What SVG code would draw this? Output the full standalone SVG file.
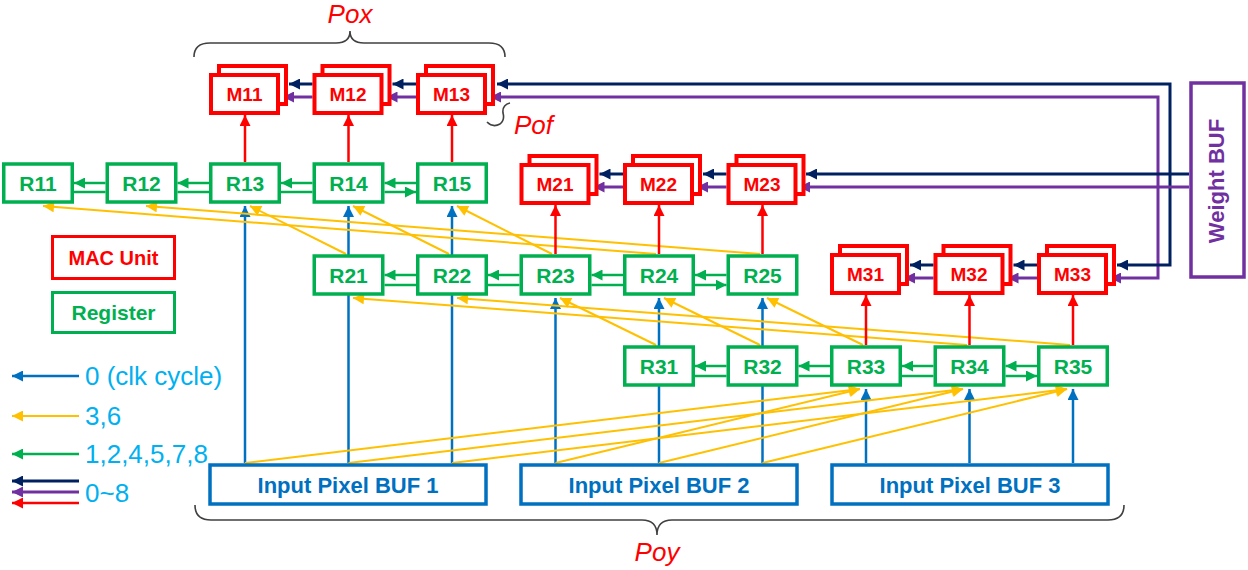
<svg xmlns="http://www.w3.org/2000/svg" width="1248" height="570" viewBox="0 0 1248 570">
<defs>
<style>
.reg{fill:#fff;stroke:#00B050;stroke-width:3.5}
.mac{fill:#fff;stroke:#FF0000;stroke-width:4}
.buf{fill:#fff;stroke:#0070C0;stroke-width:3.5}
.rt{font-family:"Liberation Sans",Arial,sans-serif;font-weight:bold;font-size:21px;fill:#00B050;text-anchor:middle}
.mt{font-family:"Liberation Sans",Arial,sans-serif;font-weight:bold;font-size:19px;fill:#FF0000;text-anchor:middle}
.bt{font-family:"Liberation Sans",Arial,sans-serif;font-weight:bold;font-size:22px;fill:#0070C0;text-anchor:middle}
.lt{font-family:"Liberation Sans",Arial,sans-serif;font-size:26px;fill:#00B0F0}
.it{font-family:"Liberation Sans",Arial,sans-serif;font-style:italic;font-size:26px;fill:#FF0000}
.g{stroke:#00B050;stroke-width:2.5;fill:none}
.b{stroke:#0070C0;stroke-width:2.5;fill:none}
.y{stroke:#FFC000;stroke-width:2;fill:none}
.r{stroke:#FF0000;stroke-width:2.5;fill:none}
.n{stroke:#002060;stroke-width:3;fill:none}
.p{stroke:#7030A0;stroke-width:3;fill:none}
.br{stroke:#404040;stroke-width:1.6;fill:none}
</style>
<marker id="ag" markerUnits="userSpaceOnUse" markerWidth="11" markerHeight="11" viewBox="0 0 10 10" refX="10" refY="5" orient="auto-start-reverse"><path d="M0,0L10,5L0,10z" fill="#00B050"/></marker>
<marker id="ab" markerUnits="userSpaceOnUse" markerWidth="12" markerHeight="11" viewBox="0 0 10 10" refX="10" refY="5" orient="auto-start-reverse"><path d="M0,0L10,5L0,10z" fill="#0070C0"/></marker>
<marker id="ay" markerUnits="userSpaceOnUse" markerWidth="12" markerHeight="11" viewBox="0 0 10 10" refX="10" refY="5" orient="auto-start-reverse"><path d="M0,0L10,5L0,10z" fill="#FFC000"/></marker>
<marker id="ar" markerUnits="userSpaceOnUse" markerWidth="12" markerHeight="11" viewBox="0 0 10 10" refX="10" refY="5" orient="auto-start-reverse"><path d="M0,0L10,5L0,10z" fill="#FF0000"/></marker>
<marker id="an" markerUnits="userSpaceOnUse" markerWidth="12" markerHeight="11" viewBox="0 0 10 10" refX="10" refY="5" orient="auto-start-reverse"><path d="M0,0L10,5L0,10z" fill="#002060"/></marker>
<marker id="ap" markerUnits="userSpaceOnUse" markerWidth="12" markerHeight="11" viewBox="0 0 10 10" refX="10" refY="5" orient="auto-start-reverse"><path d="M0,0L10,5L0,10z" fill="#7030A0"/></marker>
</defs>
<rect width="1248" height="570" fill="#fff"/>

<g id="connectors">
  <g class="b" marker-end="url(#ab)">
    <path d="M245,463V206"/><path d="M348.5,463V206"/><path d="M452,463V206"/>
    <path d="M555.5,463V298"/><path d="M659,463V298"/><path d="M762.5,463V298"/>
    <path d="M866,463V389"/><path d="M969.5,463V389"/><path d="M1073,463V389"/>
  </g>
  <g class="y" marker-end="url(#ay)">
    <path d="M346,254L250,206"/><path d="M449,254L353,206"/><path d="M552,254L457,206"/>
    <path d="M656,254L43,206"/><path d="M760,254L146,206"/>
    <path d="M656,345L560,298"/><path d="M760,345L664,298"/><path d="M863,345L767,298"/>
    <path d="M967,345L353,298"/><path d="M1070,345L457,298"/>
    <path d="M245,463L860,389"/><path d="M555.5,463L860,389"/>
    <path d="M348.5,463L963,389"/><path d="M659,463L963,389"/>
    <path d="M452,463L1067,389"/><path d="M762.5,463L1067,389"/>
  </g>
  <g class="r" marker-end="url(#ar)">
    <path d="M245,162V115"/><path d="M348.5,162V115"/><path d="M452,162V115"/>
    <path d="M555.5,254V205"/><path d="M659,254V205"/><path d="M762.5,254V205"/>
    <path d="M866,345V295"/><path d="M969.5,345V295"/><path d="M1073,345V295"/>
  </g>
  <g class="g">
    <path d="M105.5,183H74" marker-end="url(#ag)"/><path d="M74,192H105.5"/>
    <path d="M209,183H177.5" marker-end="url(#ag)"/><path d="M177.5,192H209"/>
    <path d="M312.5,183H281" marker-end="url(#ag)"/><path d="M281,192H312.5"/>
    <path d="M416,183H384.5" marker-end="url(#ag)"/><path d="M384.5,192H416" marker-end="url(#ag)"/>
    <path d="M416,275H384.5" marker-end="url(#ag)"/><path d="M384.5,285H416"/>
    <path d="M519.5,275H488" marker-end="url(#ag)"/><path d="M488,285H519.5"/>
    <path d="M623,275H591.5" marker-end="url(#ag)"/><path d="M591.5,285H623"/>
    <path d="M726.5,275H695" marker-end="url(#ag)"/><path d="M695,285H726.5" marker-end="url(#ag)"/>
    <path d="M726.5,366H695" marker-end="url(#ag)"/><path d="M695,376H726.5"/>
    <path d="M830,366H798.5" marker-end="url(#ag)"/><path d="M798.5,376H830"/>
    <path d="M933.5,366H902" marker-end="url(#ag)"/><path d="M902,376H933.5"/>
    <path d="M1037,366H1005.5" marker-end="url(#ag)"/><path d="M1005.5,376H1037" marker-end="url(#ag)"/>
  </g>
  <path class="p" d="M490,97H1158V278H1110" marker-start="url(#ap)" marker-end="url(#ap)"/>
  <path class="n" d="M497,84H1170V265H1117" marker-start="url(#an)" marker-end="url(#an)"/>
  <path class="n" d="M1189,174H806" marker-end="url(#an)"/>
  <path class="p" d="M1189,187H799" marker-end="url(#ap)"/>
  <g class="n" marker-end="url(#an)">
    <path d="M312.5,84H289"/><path d="M416,84H392.5"/>
    <path d="M623,174H599.5"/><path d="M726.5,174H703"/>
    <path d="M933.5,265H910"/><path d="M1037,265H1013.5"/>
  </g>
  <g class="p" marker-end="url(#ap)">
    <path d="M312.5,97H283"/><path d="M416,97H386.5"/>
    <path d="M623,187H593.5"/><path d="M726.5,187H697"/>
    <path d="M933.5,278H904"/><path d="M1037,278H1007.5"/>
  </g>
</g>

<g id="M11"><rect class="mac" x="219" y="66" width="67" height="38"/><rect class="mac" x="211" y="75" width="67" height="38"/><text class="mt" x="244.5" y="101">M11</text></g>
<g id="M12"><rect class="mac" x="322.5" y="66" width="67" height="38"/><rect class="mac" x="314.5" y="75" width="67" height="38"/><text class="mt" x="348" y="101">M12</text></g>
<g id="M13"><rect class="mac" x="426" y="66" width="67" height="38"/><rect class="mac" x="418" y="75" width="67" height="38"/><text class="mt" x="451.5" y="101">M13</text></g>
<g id="M21"><rect class="mac" x="529.5" y="156" width="67" height="38"/><rect class="mac" x="521.5" y="165" width="67" height="38"/><text class="mt" x="555" y="191">M21</text></g>
<g id="M22"><rect class="mac" x="633" y="156" width="67" height="38"/><rect class="mac" x="625" y="165" width="67" height="38"/><text class="mt" x="658.5" y="191">M22</text></g>
<g id="M23"><rect class="mac" x="736.5" y="156" width="67" height="38"/><rect class="mac" x="728.5" y="165" width="67" height="38"/><text class="mt" x="762" y="191">M23</text></g>
<g id="M31"><rect class="mac" x="840" y="246" width="67" height="38"/><rect class="mac" x="832" y="255" width="67" height="38"/><text class="mt" x="865.5" y="281">M31</text></g>
<g id="M32"><rect class="mac" x="943.5" y="246" width="67" height="38"/><rect class="mac" x="935.5" y="255" width="67" height="38"/><text class="mt" x="969" y="281">M32</text></g>
<g id="M33"><rect class="mac" x="1047" y="246" width="67" height="38"/><rect class="mac" x="1039" y="255" width="67" height="38"/><text class="mt" x="1072.5" y="281">M33</text></g>

<g id="R11"><rect class="reg" x="3.75" y="164" width="68.5" height="38"/><text class="rt" x="38" y="190.5">R11</text></g>
<g id="R12"><rect class="reg" x="107.25" y="164" width="68.5" height="38"/><text class="rt" x="141.5" y="190.5">R12</text></g>
<g id="R13"><rect class="reg" x="210.75" y="164" width="68.5" height="38"/><text class="rt" x="245" y="190.5">R13</text></g>
<g id="R14"><rect class="reg" x="314.25" y="164" width="68.5" height="38"/><text class="rt" x="348.5" y="190.5">R14</text></g>
<g id="R15"><rect class="reg" x="417.75" y="164" width="68.5" height="38"/><text class="rt" x="452" y="190.5">R15</text></g>
<g id="R21"><rect class="reg" x="314.25" y="256" width="68.5" height="38"/><text class="rt" x="348.5" y="282.5">R21</text></g>
<g id="R22"><rect class="reg" x="417.75" y="256" width="68.5" height="38"/><text class="rt" x="452" y="282.5">R22</text></g>
<g id="R23"><rect class="reg" x="521.25" y="256" width="68.5" height="38"/><text class="rt" x="555.5" y="282.5">R23</text></g>
<g id="R24"><rect class="reg" x="624.75" y="256" width="68.5" height="38"/><text class="rt" x="659" y="282.5">R24</text></g>
<g id="R25"><rect class="reg" x="728.25" y="256" width="68.5" height="38"/><text class="rt" x="762.5" y="282.5">R25</text></g>
<g id="R31"><rect class="reg" x="624.75" y="347" width="68.5" height="38"/><text class="rt" x="659" y="373.5">R31</text></g>
<g id="R32"><rect class="reg" x="728.25" y="347" width="68.5" height="38"/><text class="rt" x="762.5" y="373.5">R32</text></g>
<g id="R33"><rect class="reg" x="831.75" y="347" width="68.5" height="38"/><text class="rt" x="866" y="373.5">R33</text></g>
<g id="R34"><rect class="reg" x="935.25" y="347" width="68.5" height="38"/><text class="rt" x="969.5" y="373.5">R34</text></g>
<g id="R35"><rect class="reg" x="1038.75" y="347" width="68.5" height="38"/><text class="rt" x="1073" y="373.5">R35</text></g>

<g id="BUF1"><rect class="buf" x="210" y="465" width="276" height="39"/><text class="bt" x="348" y="492.5">Input Pixel BUF 1</text></g>
<g id="BUF2"><rect class="buf" x="521" y="465" width="276" height="39"/><text class="bt" x="659" y="492.5">Input Pixel BUF 2</text></g>
<g id="BUF3"><rect class="buf" x="832" y="465" width="276" height="39"/><text class="bt" x="970" y="492.5">Input Pixel BUF 3</text></g>

<g id="WeightBUF"><rect x="1191" y="83" width="53" height="194" fill="#fff" stroke="#7030A0" stroke-width="3.5"/><text transform="translate(1224,181) rotate(-90)" font-family="Liberation Sans,Arial,sans-serif" font-weight="bold" font-size="22" fill="#7030A0" text-anchor="middle">Weight BUF</text></g>

<g id="Pox"><path class="br" d="M194,57Q194,43 210,43L336,43Q350,43 350,31Q350,43 364,43L489,43Q505,43 505,57"/><text class="it" x="350" y="23" text-anchor="middle">Pox</text></g>
<g id="Pof"><path class="br" d="M487,122Q493,128 500,124Q505,120 503,113Q502,105 510,103"/><text class="it" x="514" y="134">Pof</text></g>
<g id="Poy"><path class="br" d="M195,505Q195,520 211,520L642,520Q657,520 657,535Q657,520 672,520L1108,520Q1124,520 1124,505"/><text class="it" x="657" y="561" text-anchor="middle">Poy</text></g>

<g id="legend">
  <rect x="52.5" y="236.5" width="122" height="42" fill="#fff" stroke="#FF0000" stroke-width="3"/>
  <text x="113.5" y="265" font-family="Liberation Sans,Arial,sans-serif" font-weight="bold" font-size="20" fill="#FF0000" text-anchor="middle">MAC Unit</text>
  <rect x="52.5" y="292.5" width="122" height="40" fill="#fff" stroke="#00B050" stroke-width="3"/>
  <text x="113.5" y="320" font-family="Liberation Sans,Arial,sans-serif" font-weight="bold" font-size="21" fill="#00B050" text-anchor="middle">Register</text>
  <path class="b" d="M79,376H12" marker-end="url(#ab)"/>
  <text class="lt" x="85" y="385">0 (clk cycle)</text>
  <path class="y" d="M79,416H12" marker-end="url(#ay)"/>
  <text class="lt" x="85" y="425">3,6</text>
  <path class="g" d="M79,454H12" marker-end="url(#ag)"/>
  <text class="lt" x="85" y="463">1,2,4,5,7,8</text>
  <path class="n" d="M79,481H12" marker-end="url(#an)"/>
  <path class="p" d="M79,492H12" marker-end="url(#ap)"/>
  <path class="r" d="M79,503H12" marker-end="url(#ar)"/>
  <text class="lt" x="85" y="502">0~8</text>
</g>
</svg>
